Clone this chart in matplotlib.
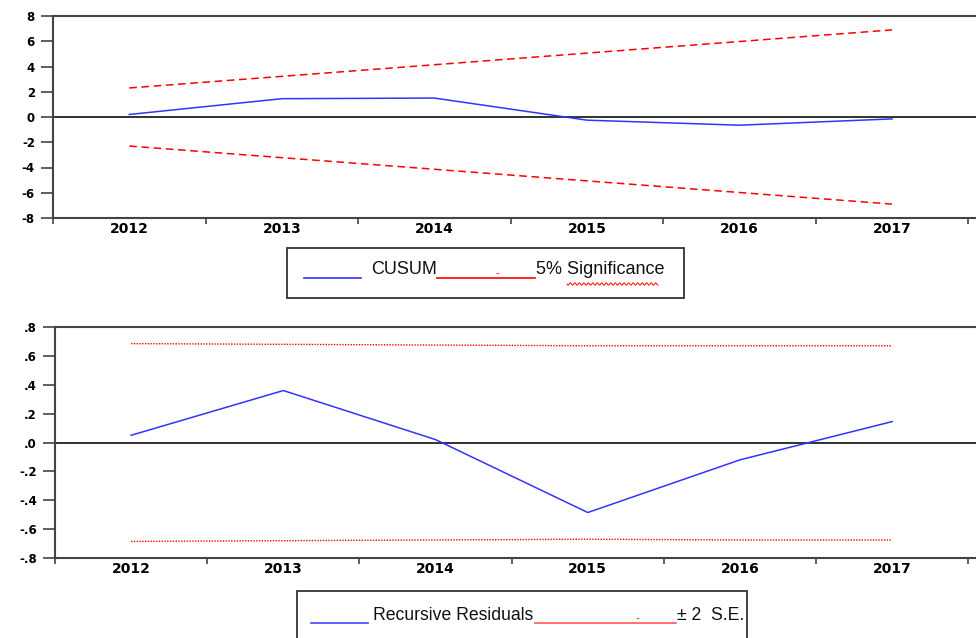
import numpy as np
import matplotlib
matplotlib.use("Agg")
import matplotlib.pyplot as plt
from matplotlib.lines import Line2D
from matplotlib.patches import Rectangle
from matplotlib.ticker import FixedLocator

plt.rcParams["font.family"] = ["Liberation Sans", "DejaVu Sans"]

years = [2012, 2013, 2014, 2015, 2016, 2017]
cusum = [0.2, 1.45, 1.5, -0.25, -0.65, -0.15]
cusum_upper = [2.3, 3.22, 4.14, 5.06, 5.98, 6.9]
cusum_lower = [-2.3, -3.22, -4.14, -5.06, -5.98, -6.9]

resid = [0.05, 0.36, 0.02, -0.485, -0.12, 0.145]
resid_upper = [0.685, 0.68, 0.675, 0.67, 0.67, 0.67]
resid_lower = [-0.685, -0.68, -0.675, -0.67, -0.675, -0.675]

cusum_ticks = [-8, -6, -4, -2, 0, 2, 4, 6, 8]
cusum_ticklabels = ["-8", "-6", "-4", "-2", "0", "2", "4", "6", "8"]
resid_ticks = [-0.8, -0.6, -0.4, -0.2, 0.0, 0.2, 0.4, 0.6, 0.8]
resid_ticklabels = ["-.8", "-.6", "-.4", "-.2", ".0", ".2", ".4", ".6", ".8"]

W, H = 976, 638
fig = plt.figure(figsize=(W / 100, H / 100), dpi=100)

spine_col = "#444444"
tick_font = {"family": "DejaVu Sans", "weight": "bold"}


def style_axes(ax, yticks, ylabels, ylim):
    ax.set_xlim(2011.5, 2017.55)
    ax.set_ylim(*ylim)
    for s in ["top", "left", "bottom"]:
        ax.spines[s].set_color(spine_col)
        ax.spines[s].set_linewidth(1.5)
    ax.spines["right"].set_visible(False)
    ax.set_yticks(yticks)
    ax.set_yticklabels(ylabels, fontsize=8.5, **tick_font)
    ax.tick_params(axis="y", length=9, width=1.2, color=spine_col, pad=4)
    ax.set_xticks(years)
    ax.set_xticklabels([str(y) for y in years], fontsize=10, **tick_font)
    ax.xaxis.set_minor_locator(FixedLocator(np.arange(2011.5, 2018, 1.0)))
    ax.tick_params(axis="x", which="major", length=0, pad=3)
    ax.tick_params(axis="x", which="minor", length=4, width=1.2, color=spine_col)
    ax.axhline(0, color="#222222", lw=1.3, zorder=1)


# top panel: CUSUM
ax1 = fig.add_axes([53 / W, 1 - 218 / H, 1 - 53 / W, (218 - 16) / H])
ax1.plot(years, cusum, color="#3333ff", lw=1.1)
ax1.plot(years, cusum_upper, color="red", lw=1.1, linestyle=(0, (5, 3)))
ax1.plot(years, cusum_lower, color="red", lw=1.1, linestyle=(0, (5, 3)))
style_axes(ax1, cusum_ticks, cusum_ticklabels, (-8, 8))

# bottom panel: recursive residuals
ax2 = fig.add_axes([55 / W, 1 - 558 / H, 1 - 55 / W, (558 - 327) / H])
ax2.plot(years, resid, color="#3333ff", lw=1.1)
ax2.plot(years, resid_upper, color="red", lw=1.0, linestyle=(0, (1, 1)))
ax2.plot(years, resid_lower, color="red", lw=1.0, linestyle=(0, (1, 1)))
style_axes(ax2, resid_ticks, resid_ticklabels, (-0.8, 0.8))


def fx(px):
    return px / W


def fy(py):
    return 1 - py / H


def hline(x0, x1, y, color):
    fig.add_artist(Line2D([fx(x0), fx(x1)], [fy(y), fy(y)], color=color,
                          lw=1.2, transform=fig.transFigure))


# legend 1
fig.add_artist(Rectangle((fx(287), fy(298)), fx(684) - fx(287), fy(248) - fy(298),
                         fill=False, edgecolor="#333333", lw=1.3,
                         transform=fig.transFigure))
hline(304, 361, 278, "#3333ff")
fig.text(fx(371), fy(270), "CUSUM", fontsize=13, va="center", color="#111111")
hline(437, 535, 278, "red")
fig.text(fx(496), fy(273), "-", fontsize=8, va="center", color="red")
fig.text(fx(536), fy(270), "5% Significance", fontsize=13, va="center", color="#111111")
wx = np.linspace(567, 658, 120)
wy = 284 + 1.2 * np.sin((wx - 567) * 1.4)
fig.add_artist(Line2D(fx(wx), fy(wy), color="red", lw=0.7, transform=fig.transFigure))

# legend 2
fig.add_artist(Rectangle((fx(297), fy(660)), fx(747) - fx(297), fy(591) - fy(660),
                         fill=False, edgecolor="#333333", lw=1.3,
                         transform=fig.transFigure, clip_on=False))
hline(311, 368, 623, "#4444ff")
fig.text(fx(373), fy(616), "Recursive Residuals", fontsize=12.7, va="center", color="#111111")
hline(535, 676, 623, "#ff5555")
fig.text(fx(635), fy(618), "-", fontsize=8, va="center", color="red")
fig.text(fx(677), fy(616), "± 2  S.E.", fontsize=12.7, va="center", color="#111111")

fig.savefig("out.png", dpi=100)
